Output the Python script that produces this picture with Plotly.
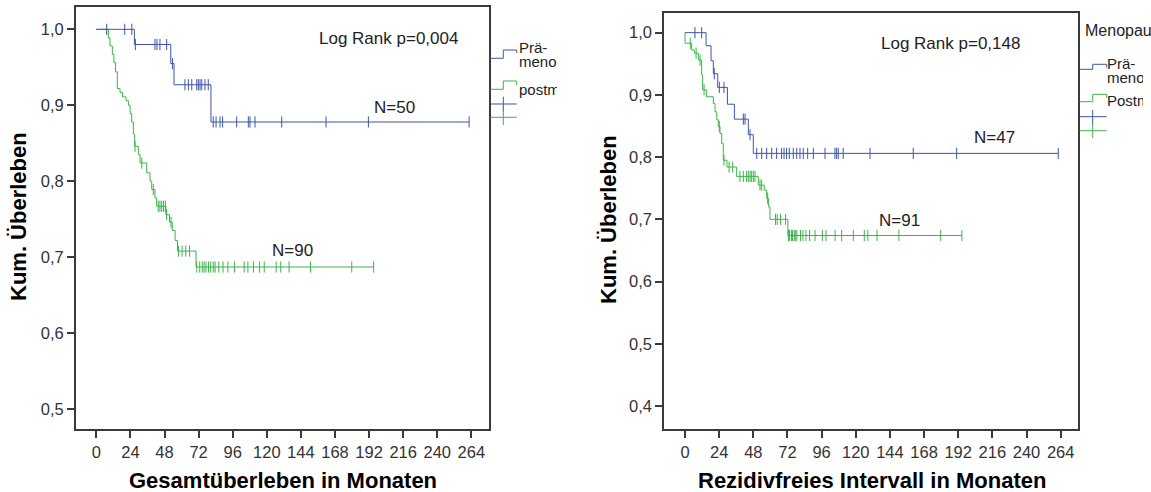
import plotly.graph_objects as go

W, H = 1151, 492

# ---------------- data ----------------
x_ticks = [0, 24, 48, 72, 96, 120, 144, 168, 192, 216, 240, 264]

# Gesamtüberleben (overall survival)
os_pre_event_t = [26.8, 52.4, 54.7, 80.7]
os_pre_surv = [0.980, 0.955, 0.927, 0.878]
os_pre_cens_t = [7.3, 20.0, 25.0, 27.5, 41.3, 42.7, 44.8, 49.5, 53.6, 62.4, 64.8, 67.2,
                 70.7, 71.8, 73.0, 74.2, 76.5, 78.8, 82.3, 84.3, 87.1, 88.9, 98.8, 107.0,
                 108.2, 111.7, 130.5, 161.7, 191.5, 262.4]

os_post_event_t = [8.5, 9.6, 11.3, 12.4, 13.5, 14.8, 16.7, 18.5, 20.9, 22.6, 23.8, 24.9,
                   26.1, 27.0, 29.6, 30.8, 35.5, 37.8, 39.0, 41.3, 42.5, 49.0, 51.5, 53.5,
                   55.5, 57.2, 70.2]
os_post_surv = [0.989, 0.978, 0.967, 0.956, 0.944, 0.922, 0.917, 0.911, 0.906, 0.900, 0.889,
                0.878, 0.862, 0.846, 0.835, 0.824, 0.811, 0.800, 0.789, 0.778, 0.767, 0.756,
                0.746, 0.735, 0.722, 0.708, 0.687]
os_post_cens_t = [27.3, 32.0, 40.1, 43.6, 44.8, 46.0, 47.3, 48.6, 49.5, 52.6, 57.9, 60.4, 63.0,
                  65.6, 70.7, 72.8, 74.6, 75.9, 77.2, 79.0, 80.5, 82.3, 83.6, 86.2, 89.2, 92.6,
                  97.2, 104.1, 106.7, 110.6, 114.9, 118.2, 126.6, 129.8, 135.7, 150.8, 179.8,
                  195.2]

# Rezidivfreies Intervall (recurrence-free interval)
rfs_pre_event_t = [14.8, 18.3, 19.9, 23.0, 29.8, 34.7, 44.5, 48.0]
rfs_pre_surv = [0.979, 0.955, 0.934, 0.912, 0.885, 0.861, 0.836, 0.806]
rfs_pre_cens_t = [7.0, 11.7, 20.6, 24.1, 27.4, 41.0, 42.2, 45.7, 50.4, 53.9, 57.4, 60.9, 64.4,
                  67.9, 69.6, 71.4, 73.3, 76.1, 78.5, 80.8, 83.1, 86.2, 90.2, 98.4, 105.4,
                  106.6, 107.7, 111.2, 130.0, 160.4, 190.9, 262.3]

rfs_post_event_t = [0.0, 4.7, 6.6, 9.4, 11.7, 12.4, 15.2, 19.9, 21.1, 22.3, 23.4, 24.6, 25.8,
                    26.9, 29.5, 36.3, 51.5, 55.7, 57.4, 58.6, 59.7, 72.3]
rfs_post_surv = [0.983, 0.972, 0.967, 0.956, 0.932, 0.908, 0.897, 0.886, 0.873, 0.860, 0.849,
                 0.838, 0.822, 0.795, 0.784, 0.769, 0.755, 0.747, 0.734, 0.720, 0.700, 0.674]
rfs_post_cens_t = [3.7, 7.8, 10.6, 13.4, 24.1, 27.4, 31.0, 33.5, 38.6, 41.0, 43.3, 44.5, 45.7,
                   46.8, 48.0, 49.2, 52.7, 53.9, 58.1, 63.6, 64.8, 67.1, 70.7, 72.7, 73.5, 74.8,
                   75.5, 76.8, 77.5, 78.6, 81.2, 82.9, 85.0, 87.6, 91.4, 96.5, 99.1, 105.5,
                   110.1, 118.3, 126.0, 128.5, 134.9, 150.3, 179.7, 194.6]

labels_os = ["Log Rank p=0,004", "N=50", "N=90"]
labels_rfs = ["Log Rank p=0,148", "N=47", "N=91"]

# ---------------- styling ----------------
BLUE = "#3E55A8"
GREEN = "#3DB44A"
FRAME = "#3a3a3a"
FONT = "Arial, 'Liberation Sans', sans-serif"


def px(x):
    return x / W


def py(y):
    return 1 - y / H


def step_at(t, times, surv):
    v = 1.0
    for ti, si in zip(times, surv):
        if ti <= t:
            v = si
    return v


def km_traces(times, surv, cens, color, xa, ya):
    xs = [0.0] + list(times) + [max(cens)]
    ys = [1.0] + list(surv) + [surv[-1]]
    line = go.Scatter(x=xs, y=ys, mode="lines", line=dict(color=color, width=1, shape="hv"),
                      xaxis=xa, yaxis=ya, hoverinfo="skip")
    marks = go.Scatter(x=cens, y=[step_at(t, times, surv) for t in cens], mode="markers",
                       marker=dict(symbol="line-ns", size=8, line=dict(color=color, width=1)),
                       xaxis=xa, yaxis=ya, hoverinfo="skip")
    return [line, marks]


fig = go.Figure()
for tr in km_traces(os_post_event_t, os_post_surv, os_post_cens_t, GREEN, "x", "y"):
    fig.add_trace(tr)
for tr in km_traces(os_pre_event_t, os_pre_surv, os_pre_cens_t, BLUE, "x", "y"):
    fig.add_trace(tr)
for tr in km_traces(rfs_post_event_t, rfs_post_surv, rfs_post_cens_t, GREEN, "x2", "y2"):
    fig.add_trace(tr)
for tr in km_traces(rfs_pre_event_t, rfs_pre_surv, rfs_pre_cens_t, BLUE, "x2", "y2"):
    fig.add_trace(tr)

axis_common = dict(showline=True, mirror=True, linecolor=FRAME, linewidth=1.5,
                   showgrid=False, zeroline=False, ticks="outside", ticklen=7,
                   tickwidth=1.5, tickcolor=FRAME,
                   tickfont=dict(family=FONT, size=16.5, color="#333333"))

fig.update_layout(
    width=W, height=H, margin=dict(l=0, r=0, t=0, b=0),
    paper_bgcolor="white", plot_bgcolor="white", showlegend=False,
    separators=",.",
    xaxis=dict(domain=[px(75.7), px(489)], range=[-14.5, 276.4], tickvals=x_ticks,
               anchor="y", **axis_common),
    yaxis=dict(domain=[py(429), py(7.3)], range=[0.4737, 1.029], dtick=0.1, tick0=0,
               tickformat=".1f", anchor="x", **axis_common),
    xaxis2=dict(domain=[px(664), px(1078.3)], range=[-14.76, 276.4], tickvals=x_ticks,
                anchor="y2", **axis_common),
    yaxis2=dict(domain=[py(429), py(12.7)], range=[0.363, 1.0321], dtick=0.1, tick0=0,
                tickformat=".1f", anchor="x2", **axis_common),
)

ann = []


def text(x, y, s, size=17, bold=False, angle=0, xanchor="center", color="#222222",
         width=None, align="center"):
    d = dict(x=px(x), y=py(y), xref="paper", yref="paper", text=s, showarrow=False,
             xanchor=xanchor, yanchor="middle", textangle=angle, align=align,
             font=dict(family=FONT, size=size, color=color))
    if bold:
        d["text"] = "<b>" + s + "</b>"
        d["font"]["color"] = "#000000"
    if width is not None:
        d["width"] = width
    ann.append(d)


# panel texts
text(388.5, 38, labels_os[0])
text(394, 107, labels_os[1])
text(292, 250, labels_os[2])
text(950.5, 43, labels_rfs[0])
text(994, 137, labels_rfs[1])
text(899, 220, labels_rfs[2])

# axis titles
text(282.5, 480, "Gesamtüberleben in Monaten", size=22, bold=True)
text(872, 480, "Rezidivfreies Intervall in Monaten", size=22, bold=True)
text(18, 217, "Kum. Überleben", size=22, bold=True, angle=-90)
text(608, 220, "Kum. Überleben", size=22, bold=True, angle=-90)

# legends (clipped like in the original)
LEG = 15
text(517, 47, "Prä-", size=LEG, xanchor="left", width=38, align="left")
text(517, 61, "menopausal", size=LEG, xanchor="left", width=38, align="left")
text(517, 90, "postmenopausal", size=LEG, xanchor="left", width=38, align="left")
text(1083, 31, "Menopausenstatus", size=16, xanchor="left", width=66, align="left")
text(1105, 63, "Prä-", size=LEG, xanchor="left", width=36, align="left")
text(1105, 77, "menopausal", size=LEG, xanchor="left", width=36, align="left")
text(1105, 100, "Postmenopausal", size=LEG, xanchor="left", width=36, align="left")

shapes = []


def seg_path(points, color):
    d = "M " + " L ".join(f"{px(a):.5f},{py(b):.5f}" for a, b in points)
    shapes.append(dict(type="path", path=d, xref="paper", yref="paper",
                       line=dict(color=color, width=1)))


# left legend glyphs
seg_path([(490.5, 58.3), (503.3, 58.3), (503.3, 50), (516.7, 50), (516.7, 53)], BLUE)
seg_path([(490.5, 89.3), (503.3, 89.3), (503.3, 81), (516.7, 81), (516.7, 85)], GREEN)
seg_path([(490.5, 104), (516.7, 104)], BLUE)
seg_path([(503.3, 96.7), (503.3, 111.7)], BLUE)
seg_path([(490.5, 117.3), (516.7, 117.3)], GREEN)
seg_path([(503.3, 110), (503.3, 125)], GREEN)
# right legend glyphs
seg_path([(1079.5, 69.3), (1092.7, 69.3), (1092.7, 64.3), (1106.7, 64.3), (1106.7, 67.7)], BLUE)
seg_path([(1079.5, 101.7), (1092.7, 101.7), (1092.7, 94.3), (1106.7, 94.3), (1106.7, 98)], GREEN)
seg_path([(1079.5, 116.7), (1106.7, 116.7)], BLUE)
seg_path([(1092.7, 110), (1092.7, 125)], BLUE)
seg_path([(1079.5, 130.7), (1106.7, 130.7)], GREEN)
seg_path([(1092.7, 124), (1092.7, 138)], GREEN)

fig.update_layout(annotations=ann, shapes=shapes)
fig.write_html(
    "out.html",
    config={"displayModeBar": False},
    post_script="document.documentElement.style.margin='0';"
                "document.body.style.margin='0';document.body.style.padding='0';"
                "document.body.style.overflow='hidden';",
)
